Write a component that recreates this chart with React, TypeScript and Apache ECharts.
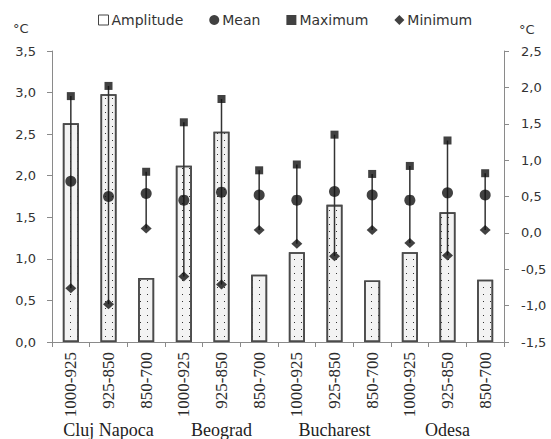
import React, { useEffect, useRef } from "react";
import * as echarts from "echarts";

const categories = [
  "1000-925", "925-850", "850-700",
  "1000-925", "925-850", "850-700",
  "1000-925", "925-850", "850-700",
  "1000-925", "925-850", "850-700",
];
const cities = ["Cluj Napoca", "Beograd", "Bucharest", "Odesa"];
const amplitude = [2.63, 2.98, 0.77, 2.12, 2.53, 0.81, 1.08, 1.65, 0.74, 1.08, 1.56, 0.75];
const meanVals = [0.71, 0.5, 0.54, 0.45, 0.56, 0.52, 0.45, 0.57, 0.52, 0.45, 0.55, 0.52];
const maxVals = [1.88, 2.02, 0.84, 1.52, 1.84, 0.86, 0.94, 1.35, 0.81, 0.92, 1.27, 0.82];
const minVals = [-0.76, -0.98, 0.06, -0.6, -0.71, 0.04, -0.15, -0.32, 0.04, -0.14, -0.31, 0.04];
const leftTicks = { min: 0, max: 3.5, interval: 0.5 };
const rightTicks = { min: -1.5, max: 2.5, interval: 0.5 };
const unit = "°C";

const sans = "DejaVu Sans";
const serif = "Liberation Serif";
const fmt = (v: number) => v.toFixed(1).replace(".", ",");

export default function App() {
  const ref = useRef<HTMLDivElement>(null);
  useEffect(() => {
    const chart = echarts.init(ref.current!, null, { renderer: "svg" });
    const axisLine = { show: true, lineStyle: { color: "#8a8a8a", width: 1 } };
    const tick = { show: true, lineStyle: { color: "#8a8a8a" }, length: 5 };
    chart.setOption({
      animation: false,
      backgroundColor: "#fff",
      grid: { left: 52, right: 47, top: 51, bottom: 96 },
      legend: {
        top: 8,
        left: 93,
        itemGap: 26,
        itemWidth: 10,
        itemHeight: 10,
        textStyle: { fontFamily: sans, fontSize: 14, color: "#333", padding: [0, 0, 0, -2] },
        data: [
          { name: "Amplitude", icon: "rect", itemStyle: { color: "#fff", borderColor: "#444", borderWidth: 1, decal: "none" } },
          { name: "Mean", icon: "circle" },
          { name: "Maximum", icon: "rect", itemStyle: { color: "#111" } },
          { name: "Minimum", icon: "diamond" },
        ],
      },
      xAxis: [
        {
          type: "category",
          data: categories,
          axisLine,
          axisTick: tick,
          axisLabel: {
            rotate: 90,
            interval: 0,
            fontFamily: serif,
            fontSize: 17,
            color: "#2a2a2a",
            margin: 10,
          },
        },
        {
          type: "category",
          data: cities,
          position: "bottom",
          axisLine: { show: false },
          axisTick: { show: false },
          axisLabel: {
            interval: 0,
            hideOverlap: false,
            fontFamily: serif,
            fontSize: 18,
            lineHeight: 18,
            color: "#222",
            margin: 79,
          },
        },
      ],
      yAxis: [
        {
          type: "value",
          ...leftTicks,
          position: "left",
          axisLine,
          axisTick: tick,
          splitLine: { show: false },
          axisLabel: { formatter: fmt, fontFamily: sans, fontSize: 13, color: "#333", margin: 16 },
        },
        {
          type: "value",
          ...rightTicks,
          position: "right",
          axisLine,
          axisTick: tick,
          splitLine: { show: false },
          axisLabel: { formatter: fmt, fontFamily: sans, fontSize: 13, color: "#333", margin: 17 },
        },
      ],
      graphic: [
        { type: "text", x: 13, y: 28, style: { text: unit, font: `13px "${sans}"`, fill: "#333", textVerticalAlign: "middle" } },
        { type: "text", x: 519, y: 29, style: { text: unit, font: `13px "${sans}"`, fill: "#333", textVerticalAlign: "middle" } },
      ],
      series: [
        {
          name: "Amplitude",
          type: "bar",
          yAxisIndex: 0,
          barWidth: 16,
          data: amplitude,
          z: 1,
          itemStyle: {
            color: "#f3f3f3",
            borderColor: "#4a4a4a",
            borderWidth: 1.6,
            decal: {
              symbol: "rect",
              symbolSize: 1,
              color: "#333",
              dashArrayX: [1, 6],
              dashArrayY: [1, 6],
            },
          },
        },
        {
          name: "range",
          type: "custom",
          yAxisIndex: 1,
          z: 3,
          data: minVals.map((v, i) => [i, v, maxVals[i]]),
          renderItem: (params: any, api: any) => {
            const p1 = api.coord([api.value(0), api.value(1)]);
            const p2 = api.coord([api.value(0), api.value(2)]);
            return {
              type: "line",
              shape: { x1: p1[0], y1: p1[1], x2: p2[0], y2: p2[1] },
              style: { stroke: "#333", lineWidth: 1.5 },
            };
          },
        },
        {
          name: "Mean",
          type: "scatter",
          yAxisIndex: 1,
          symbol: "circle",
          symbolSize: 11,
          z: 4,
          itemStyle: { color: "#111" },
          data: meanVals,
        },
        {
          name: "Maximum",
          type: "scatter",
          yAxisIndex: 1,
          symbol: "rect",
          symbolSize: 8,
          z: 4,
          itemStyle: { color: "#111" },
          data: maxVals,
        },
        {
          name: "Minimum",
          type: "scatter",
          yAxisIndex: 1,
          symbol: "diamond",
          symbolSize: [11, 10],
          z: 4,
          itemStyle: { color: "#111" },
          data: minVals,
        },
      ],
    });
    return () => chart.dispose();
  }, []);
  return <div ref={ref} style={{ width: 551, height: 439, position: "absolute", left: 0, top: 0 }} />;
}
